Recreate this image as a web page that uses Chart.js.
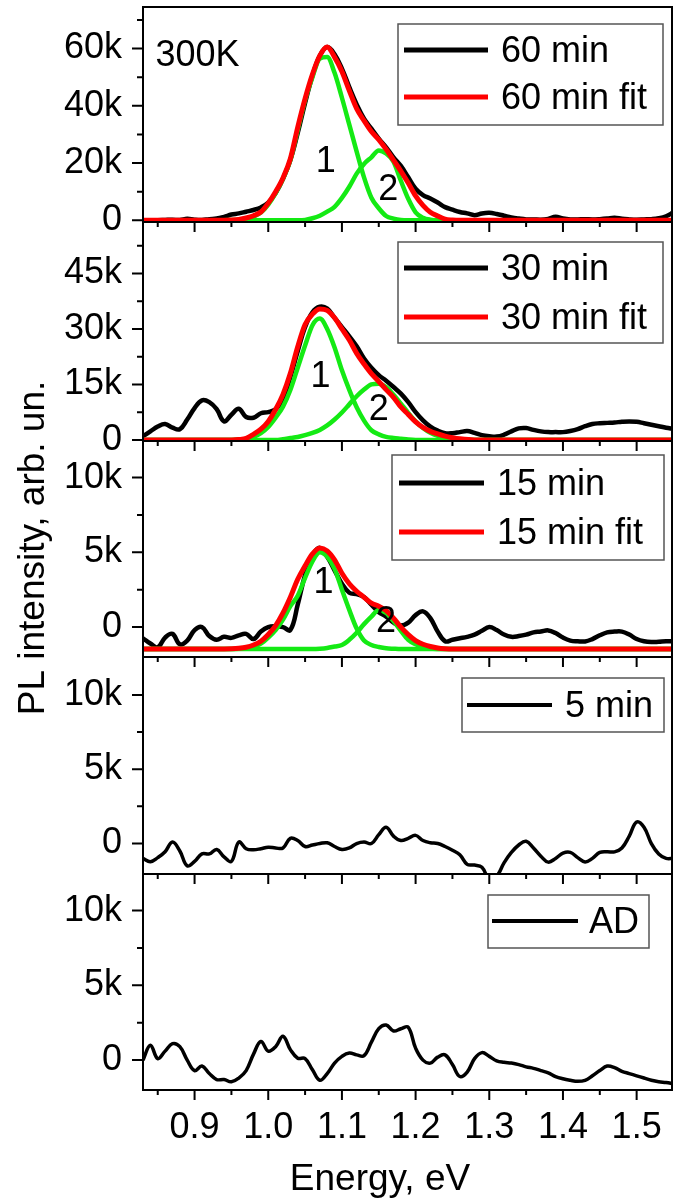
<!doctype html>
<html lang="en">
<head>
<meta charset="utf-8">
<title>PL spectra, 300K</title>
<script src="https://cdn.jsdelivr.net/npm/chart.js@4.4.1/dist/chart.umd.min.js"></script>
<style>
  body { margin: 0; background: #fff; }
  #wrap { position: relative; width: 683px; height: 1202px; }
  #wrap canvas { position: absolute; left: 0; top: 0; }
</style>
</head>
<body>
<div id="wrap"><canvas id="titles" width="683" height="1202"></canvas></div>
<script>
// energy grid of the measured spectra, eV
const E = [0.83,0.84,0.85,0.86,0.87,0.88,0.89,0.90,0.91,0.92,
           0.93,0.94,0.95,0.96,0.97,0.98,0.99,1.00,1.01,1.02,
           1.03,1.04,1.05,1.06,1.07,1.08,1.09,1.10,1.11,1.12,
           1.13,1.14,1.15,1.16,1.17,1.18,1.19,1.20,1.21,1.22,
           1.23,1.24,1.25,1.26,1.27,1.28,1.29,1.30,1.31,1.32,
           1.33,1.34,1.35,1.36,1.37,1.38,1.39,1.40,1.41,1.42,
           1.43,1.44,1.45,1.46,1.47,1.48,1.49,1.50,1.51,1.52,
           1.53,1.54,1.55];

// measured PL, thousands of counts
const b60 = [0,0,0,0.1,0.2,0.1,0.5,0.2,0.1,0.4,
             0.6,1.2,2.0,2.4,3.0,3.6,4.5,6.2,9.5,14.5,
             21,30.5,41,50.5,57.5,60.5,58,53,46.5,40.5,
             35.5,32,28.5,25.5,22,19,15,11,8.8,7.6,
             6.2,4.6,3.7,2.9,2.4,1.8,2.4,2.6,2.2,1.6,
             1.0,0.6,0.3,0.3,0.2,0.5,1.2,0.6,0.3,0.3,
             0.4,0.3,0.4,0.6,0.9,0.5,0.3,0.2,0.3,0.4,
             0.7,1.4,2.8];
const b30 = [1.0,2.3,3.6,4.3,3.3,2.9,5.5,8.6,10.7,10.2,
             8.3,5.0,6.8,8.4,6.2,6.0,7.2,7.5,8.3,11,
             17,24,30.5,34.5,36,35.5,33,30.5,28,25.3,
             22,19.5,17.5,16,14.3,12.5,10.2,7.5,5.3,3.6,
             2.5,1.8,1.8,2.1,2.4,1.9,1.3,1.0,0.9,1.4,
             2.3,3.1,3.2,2.7,2.3,2.1,2.1,2.1,2.4,2.9,
             3.7,4.3,4.5,4.6,4.7,4.9,5.0,4.9,4.5,4.1,
             3.7,3.3,3.0];
const b15 = [-0.75,-1.1,-1.35,-0.7,-0.45,-1.15,-0.9,-0.2,0.0,-0.6,
             -0.85,-0.65,-0.72,-0.55,-0.45,-0.8,-0.3,0.0,0.05,0.0,
             -0.2,1.5,3.5,4.8,5.3,4.7,3.8,2.9,2.3,2.2,
             2.0,1.5,1.0,0.7,0.3,0.1,0.3,0.8,1.05,0.6,
             -0.3,-0.95,-0.85,-0.75,-0.65,-0.5,-0.25,0.0,-0.2,-0.5,
             -0.65,-0.6,-0.5,-0.35,-0.3,-0.22,-0.4,-0.7,-0.9,-0.95,
             -0.96,-0.8,-0.55,-0.35,-0.3,-0.3,-0.5,-0.8,-0.95,-1.0,
             -0.98,-0.95,-0.95];
const b5 = [-1.0,-1.22,-0.95,-0.55,0.1,-0.5,-1.5,-1.2,-0.7,-0.7,
            -0.4,-0.9,-1.2,0.1,-0.35,-0.42,-0.35,-0.25,-0.3,-0.3,
            0.35,0.2,-0.2,-0.1,0.0,0.05,-0.2,-0.4,-0.3,0.0,
            0.1,0.0,0.6,1.1,0.5,0.2,0.35,0.55,0.2,0.05,
            0.0,-0.2,-0.45,-0.75,-1.4,-1.45,-1.6,-2.4,-2.2,-1.3,
            -0.6,-0.1,0.15,-0.3,-0.85,-1.25,-1.0,-0.65,-0.6,-0.95,
            -1.24,-1.0,-0.6,-0.55,-0.56,-0.3,0.5,1.45,1.1,0.0,
            -0.7,-1.0,-1.0];
const bAD = [0.0,1.0,0.1,0.6,1.1,0.9,0.0,-0.7,-0.4,-0.9,
             -1.3,-1.3,-1.45,-1.2,-0.7,0.4,1.25,0.6,0.9,1.6,
             0.7,0.13,0.1,-0.65,-1.35,-0.9,-0.2,0.25,0.47,0.35,
             0.3,1.2,2.1,2.35,1.95,2.1,2.2,0.8,0.0,-0.2,
             0.2,0.35,-0.3,-1.1,-0.8,0.1,0.5,0.25,-0.05,-0.15,
             -0.2,-0.3,-0.45,-0.55,-0.7,-0.85,-1.1,-1.25,-1.35,-1.42,
             -1.35,-1.05,-0.7,-0.4,-0.5,-0.75,-0.9,-1.05,-1.2,-1.35,
             -1.45,-1.5,-1.58];

// energy grid of the fitted curves
const fitE = [0.83,0.93,0.95,0.96,0.97,0.98,0.99,1.00,1.01,1.02,
              1.03,1.04,1.05,1.06,1.07,1.08,1.09,1.10,1.11,1.12,
              1.13,1.14,1.15,1.16,1.17,1.18,1.19,1.20,1.21,1.22,
              1.23,1.24,1.25,1.26,1.28,1.55];

const fit60 = [0,0,0.1,0.3,0.8,1.6,2.9,6.0,10,14.8,
               21.5,32.5,42.5,51,57.5,60.5,57,52,45.3,39,
               34.8,31,28.2,24.8,21,17.2,13,8.5,5.2,2.8,
               1.5,0.4,0.1,0,0,0];
const g1_60 = [0,0,0.1,0.2,0.6,1.3,2.7,5.5,9.5,14.5,
               21,31.5,42,50,56.5,57,51.5,42.8,33.4,24,
               15,7.9,4.2,1.5,0.6,0.1,0,0,0,0,
               0,0,0,0,0,0];
const g2_60 = [0,0,0,0,0,0,0,0,0,0,
               0,0,0.1,0.7,1.6,3,4.7,7.8,11.7,16.3,
               19.7,22,24.4,23.3,20.5,13.8,7.5,2.8,0.9,0.2,
               0,0,0,0,0,0];

const fit30 = [0,0,0,0.1,0.4,1.5,2.9,5.0,8.2,12.3,
               18,25.2,31.2,34,35.4,35,33,30,27,23.4,
               20.5,17.9,15.8,13.6,11.5,8.9,6.9,4.9,3.4,2.3,
               1.6,1.0,0.6,0.3,0,0];
const g1_30 = [0,0,0,0.1,0.2,0.8,1.8,3.5,6.0,9.0,
               13.5,19.5,25.5,31,32.8,30,25,18.8,13.5,8.8,
               5.2,2.6,1.5,0.8,0.5,0.3,0.1,0,0,0,
               0,0,0,0,0,0];
const g2_30 = [0,0,0,0,0,0,0,0,0,0.2,
               0.5,0.8,1.3,1.9,2.7,3.9,5.5,7.4,9.6,11.8,
               13.6,15.0,15.2,14.3,12.2,9.8,7.3,5.0,3.2,1.9,
               1.1,0.7,0.4,0.2,0,0];

const fit15 = [-1.47,-1.47,-1.45,-1.42,-1.35,-1.2,-0.95,-0.5,0.1,0.95,
               2.0,3.2,4.1,4.9,5.3,5.1,4.5,3.6,2.9,2.4,
               2.0,1.6,1.4,1.1,0.6,0.0,-0.5,-0.9,-1.15,-1.3,
               -1.4,-1.45,-1.47,-1.47,-1.47,-1.47];
const g1_15 = [-1.47,-1.47,-1.46,-1.45,-1.4,-1.3,-1.1,-0.7,-0.2,0.5,
               1.4,2.1,3.3,4.4,5.0,4.7,3.9,2.5,1.15,-0.1,
               -0.9,-1.2,-1.33,-1.42,-1.45,-1.47,-1.47,-1.47,-1.47,-1.47,
               -1.47,-1.47,-1.47,-1.47,-1.47,-1.47];
const g2_15 = [-1.47,-1.47,-1.47,-1.47,-1.47,-1.47,-1.47,-1.47,-1.47,-1.47,
               -1.47,-1.47,-1.47,-1.47,-1.45,-1.4,-1.3,-1.2,-0.85,-0.38,
               0.2,0.7,1.15,0.95,0.4,-0.25,-0.85,-1.15,-1.35,-1.43,
               -1.46,-1.47,-1.47,-1.47,-1.47,-1.47];

// axes
const xMajor = [0.9,1.0,1.1,1.2,1.3,1.4,1.5];
const xMinor = [0.85,0.95,1.05,1.15,1.25,1.35,1.45];
const xTitle = 'Energy, eV';
const yTitle = 'PL intensity, arb. un.';

const FONT = '"Liberation Sans", Arial, sans-serif';
const black = '#000000', red = '#ff0000', green = '#14ea14';

function curve(xs, ys, color, width, order, smooth) {
  return {
    data: xs.map((x, i) => ({ x: x, y: ys[i] })),
    borderColor: color,
    borderWidth: width,
    pointRadius: 0,
    fill: false,
    order: order,
    tension: 0.4,
    cubicInterpolationMode: smooth ? 'monotone' : 'default'
  };
}

const panels = [
  { top: 7, bottom: 222, min: -0.6, max: 74.5, major: [0,20,40,60], minor: [10,30,50,70],
    sets: [curve(E, b60, black, 4.5, 2), curve(fitE, g1_60, green, 4.5, 1, true),
           curve(fitE, g2_60, green, 4.5, 1, true), curve(fitE, fit60, red, 5, 0, true)],
    legend: { box: [398,24,663,125], lineX: [404,488], textX: 501, width: 5,
              rows: [[50, black, '60 min'], [97, red, '60 min fit']] },
    notes: [['300K', 0.847, 57.2, 'left'], ['1', 1.078, 20.3], ['2', 1.163, 10.5]] },
  { top: 222, bottom: 441, min: -0.3, max: 58.9, major: [0,15,30,45], minor: [7.5,22.5,37.5,52.5],
    sets: [curve(E, b30, black, 4.5, 2), curve(fitE, g1_30, green, 4.5, 1, true),
           curve(fitE, g2_30, green, 4.5, 1, true), curve(fitE, fit30, red, 5, 0, true)],
    legend: { box: [398,242,663,343], lineX: [404,488], textX: 501, width: 5,
              rows: [[268, black, '30 min'], [317, red, '30 min fit']] },
    notes: [['1', 1.071, 17.1], ['2', 1.150, 8.1]] },
  { top: 441, bottom: 657, min: -2, max: 12.45, major: [0,5,10], minor: [2.5,7.5],
    sets: [curve(E, b15, black, 4.5, 2), curve(fitE, g1_15, green, 4.5, 1, true),
           curve(fitE, g2_15, green, 4.5, 1, true), curve(fitE, fit15, red, 5, 0, true)],
    legend: { box: [392,455,664,560], lineX: [399,484], textX: 497, width: 5,
              rows: [[483, black, '15 min'], [532, red, '15 min fit']] },
    notes: [['1', 1.075, 2.97], ['2', 1.160, 0.36]] },
  { top: 657, bottom: 874, min: -2.05, max: 12.55, major: [0,5,10], minor: [2.5,7.5],
    sets: [curve(E, b5, black, 3.5, 2)],
    legend: { box: [462,678,664,732], lineX: [467,552], textX: 565, width: 4,
              rows: [[705, black, '5 min']] },
    notes: [] },
  { top: 874, bottom: 1090, min: -2, max: 12.45, major: [0,5,10], minor: [2.5,7.5],
    sets: [curve(E, bAD, black, 3.5, 2)],
    legend: { box: [488,895,649,948], lineX: [492,578], textX: 589, width: 4,
              rows: [[921, black, 'AD']] },
    notes: [] }
];

function framePlugin(p, cTop) {
  return {
    id: 'frame',
    afterDraw(chart) {
      const ctx = chart.ctx, a = chart.chartArea;
      const xs = chart.scales.x, ys = chart.scales.y;
      ctx.save();
      ctx.strokeStyle = '#000';
      ctx.lineWidth = 2;
      ctx.strokeRect(a.left, a.top, a.right - a.left, a.bottom - a.top);
      ctx.beginPath();
      xMajor.forEach(v => { const px = xs.getPixelForValue(v); ctx.moveTo(px, a.bottom); ctx.lineTo(px, a.bottom + 10); });
      xMinor.forEach(v => { const px = xs.getPixelForValue(v); ctx.moveTo(px, a.bottom); ctx.lineTo(px, a.bottom + 5); });
      p.major.forEach(v => { const py = ys.getPixelForValue(v); ctx.moveTo(a.left, py); ctx.lineTo(a.left - 11, py); });
      p.minor.forEach(v => { const py = ys.getPixelForValue(v); ctx.moveTo(a.left, py); ctx.lineTo(a.left - 6, py); });
      ctx.stroke();

      // legend box
      const L = p.legend;
      ctx.strokeStyle = '#555';
      ctx.lineWidth = 1.5;
      ctx.strokeRect(L.box[0], L.box[1] - cTop, L.box[2] - L.box[0], L.box[3] - L.box[1]);
      ctx.font = '36px ' + FONT;
      ctx.fillStyle = '#000';
      ctx.textBaseline = 'middle';
      ctx.textAlign = 'left';
      L.rows.forEach(r => {
        const y = r[0] - cTop;
        ctx.strokeStyle = r[1];
        ctx.lineWidth = L.width;
        ctx.beginPath();
        ctx.moveTo(L.lineX[0], y);
        ctx.lineTo(L.lineX[1], y);
        ctx.stroke();
        ctx.fillText(r[2], L.textX, y + 2);
      });

      // peak numbers and temperature
      p.notes.forEach(n => {
        ctx.textAlign = n[3] || 'center';
        ctx.fillText(n[0], xs.getPixelForValue(n[1]), ys.getPixelForValue(n[2]));
      });
      ctx.restore();
    }
  };
}

const wrap = document.getElementById('wrap');
panels.forEach((p, i) => {
  const last = i === panels.length - 1;
  const cTop = Math.max(0, p.top - 8);
  const extra = last ? 1202 - p.bottom : 14;
  const cv = document.createElement('canvas');
  cv.width = 683;
  cv.height = p.bottom - cTop + extra;
  cv.style.top = cTop + 'px';
  wrap.appendChild(cv);

  new Chart(cv, {
    type: 'line',
    data: { datasets: p.sets },
    options: {
      responsive: false,
      animation: false,
      devicePixelRatio: 1,
      layout: { padding: { top: p.top - cTop, right: 11, bottom: 0, left: 0 } },
      plugins: { legend: { display: false }, tooltip: { enabled: false } },
      scales: {
        x: {
          type: 'linear', min: 0.83, max: 1.548,
          grid: { display: false, drawTicks: false },
          border: { display: false },
          ticks: {
            display: last, color: '#000', padding: 16, maxRotation: 0, autoSkip: false,
            font: { family: FONT, size: 36 },
            callback: v => v.toFixed(1)
          },
          afterBuildTicks: s => { s.ticks = xMajor.map(v => ({ value: v })); },
          afterFit: s => {
            s.height = extra;
            s.paddingLeft = 0; s.paddingRight = 0; s.paddingTop = 0; s.paddingBottom = 0;
          }
        },
        y: {
          min: p.min, max: p.max,
          grid: { display: false, drawTicks: false },
          border: { display: false },
          ticks: {
            color: '#000', padding: 21, autoSkip: false,
            font: { family: FONT, size: 36 },
            callback: v => v === 0 ? '0' : v + 'k'
          },
          afterBuildTicks: s => { s.ticks = p.major.map(v => ({ value: v })); },
          afterFit: s => {
            s.width = 143;
            s.paddingLeft = 0; s.paddingRight = 0; s.paddingTop = 0; s.paddingBottom = 0;
          }
        }
      }
    },
    plugins: [framePlugin(p, cTop)]
  });
});

// axis titles
const tc = document.getElementById('titles').getContext('2d');
tc.font = '37px ' + FONT;
tc.fillStyle = '#000';
tc.textAlign = 'center';
tc.textBaseline = 'alphabetic';
tc.fillText(xTitle, 380, 1190);
tc.save();
tc.translate(44, 548);
tc.rotate(-Math.PI / 2);
tc.fillText(yTitle, 0, 0);
tc.restore();
</script>
</body>
</html>
